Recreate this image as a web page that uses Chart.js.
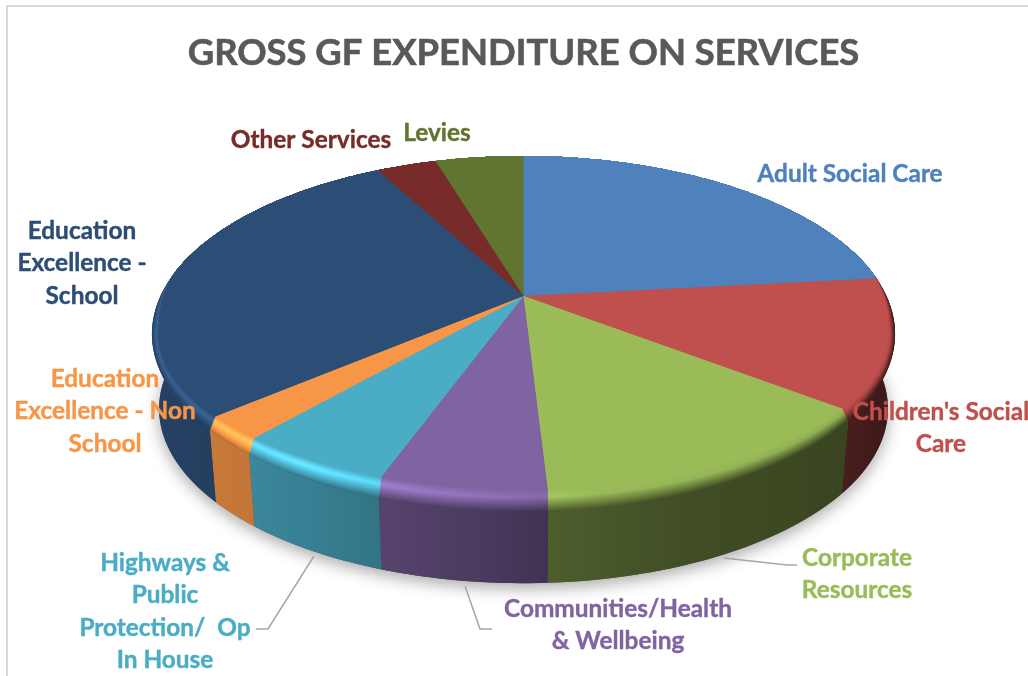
<!DOCTYPE html>
<html>
<head>
    <title>Gross GF expenditure on services</title>
    <meta charset="utf-8">
    <script src="https://cdn.jsdelivr.net/npm/chart.js"></script>
    <style>
        body { margin: 0; background: #fff; overflow: hidden; }
        canvas { display: block; }
    </style>
</head>
<body>
    <canvas id="myChart" width="1028" height="676"></canvas>
    <script>
        var chartTitle = 'GROSS GF EXPENDITURE ON SERVICES';
        var categories = ['Adult Social Care', "Children's Social Care", 'Corporate Resources',
            'Communities/Health & Wellbeing', 'Highways & Public Protection/  Op In House',
            'Education Excellence - Non School', 'Education Excellence - School', 'Other Services', 'Levies'];
        var shares = [23.3, 12.6, 13.2, 6.0, 5.7, 2.4, 28.8, 3.2, 4.7];
        var colours = ['#4F81BD', '#C0504D', '#9BBB59', '#8064A2', '#4BACC6', '#F79646', '#2C4D75', '#772C2A', '#5F7530'];

        // wrapped category text, with the centre x and first baseline of each block
        var labelLines = [
            ['Adult Social Care'],
            ["Children's Social", 'Care'],
            ['Corporate', 'Resources'],
            ['Communities/Health', '& Wellbeing'],
            ['Highways &', 'Public', 'Protection/  Op', 'In House'],
            ['Education', 'Excellence - Non', 'School'],
            ['Education', 'Excellence -', 'School'],
            ['Other Services'],
            ['Levies']
        ];
        var labelX = [850, 941, 857, 618, 165, 105, 82, 311, 437];
        var labelY = [181.5, 419.5, 565.5, 616.5, 570.5, 386.5, 238.5, 147.5, 140.5];
        var lineStep = 32.6;

        var leaders = [
            [[314, 556], [268, 629], [256, 629]],
            [[465, 586], [480, 629], [492, 629]],
            [[724, 558], [787, 565], [797, 565]]
        ];

        // tilted disc: apex of the slices, radii and perspective strength
        var apexX = 523.5, apexY = 296, radiusX = 363, radiusY = 169.9, tilt = 0.2135;
        var vanishY = 4200, depth = 0.0193, bevelPx = 22, sideBevelPx = 7;

        // brightness of the side wall and of the rim highlight, by x position
        var wallStops = [[150, .85], [230, .8], [320, .73], [385, .67], [514, .55], [549, .5], [700, .41], [850, .37], [895, .3]];
        var peakStops = [[150, 1.25], [300, 1.4], [400, 1.25], [514, 1.1], [600, 1], [895, .9]];

        function lookup(stops, x) {
            if (x <= stops[0][0]) return stops[0][1];
            for (var i = 1; i < stops.length; i++) {
                if (x <= stops[i][0]) {
                    var f = (x - stops[i-1][0]) / (stops[i][0] - stops[i-1][0]);
                    return stops[i-1][1] + f * (stops[i][1] - stops[i-1][1]);
                }
            }
            return stops[stops.length-1][1];
        }

        function clamp01(a) { return Math.max(0, Math.min(1, a)); }

        function shade(hex, f) {
            var n = parseInt(hex.slice(1), 16);
            var r = Math.min(255, Math.round((n >> 16) * f));
            var g = Math.min(255, Math.round(((n >> 8) & 255) * f));
            var b = Math.min(255, Math.round((n & 255) * f));
            return 'rgb(' + r + ',' + g + ',' + b + ')';
        }

        // outer edge of the disc for an arc angle; inset 1 gives the edge of the flat top face
        function rim(angle, inset) {
            var u = Math.cos(angle), v = Math.sin(angle), w = 1 - tilt * v;
            var x = apexX + radiusX * u / w;
            var y = apexY + radiusY * v / w;
            x -= inset * sideBevelPx * u * clamp01((v + 0.15) / 0.3);
            y -= inset * bevelPx * clamp01((v - 0.2) / 0.8);
            return [x, y];
        }

        // same edge carried down the side wall towards the vanishing point
        function foot(p) {
            return [apexX + (p[0] - apexX) * (1 - depth), p[1] + (vanishY - p[1]) * depth];
        }

        function arcPoints(arc, inset) {
            var pts = [];
            var n = Math.max(4, Math.ceil((arc.endAngle - arc.startAngle) * 60));
            for (var i = 0; i <= n; i++) {
                pts.push(rim(arc.startAngle + (arc.endAngle - arc.startAngle) * i / n, inset));
            }
            return pts;
        }

        function trace(ctx, pts) {
            ctx.moveTo(pts[0][0], pts[0][1]);
            for (var i = 1; i < pts.length; i++) ctx.lineTo(pts[i][0], pts[i][1]);
        }

        // inset 1 is the face colour, 0 is the wall colour, with the highlight between
        function bandGradient(ctx, hex, inset) {
            var g = ctx.createLinearGradient(150, 0, 900, 0);
            var e = 1 - inset;
            for (var x = 150; x <= 900; x += 25) {
                var wall = lookup(wallStops, x), peak = lookup(peakStops, x), f;
                if (e <= 0.35) f = 1 + (peak - 1) * e / 0.35;
                else f = peak + (wall - peak) * (e - 0.35) / 0.65;
                g.addColorStop((x - 150) / 750, shade(hex, f));
            }
            return g;
        }

        var pie3d = {
            id: 'pie3d',
            beforeDraw: function(chart) {
                var ctx = chart.ctx;
                ctx.save();
                ctx.fillStyle = '#d9d9d9';
                ctx.fillRect(6, 5, 1022, 2);
                ctx.fillRect(6, 5, 2, 671);
                ctx.restore();
            },
            beforeDatasetDraw: function(chart, args) {
                var ctx = chart.ctx;
                var arcs = args.meta.data;
                ctx.save();

                // soft shadow under the disc
                var whole = [];
                for (var a = 0; a <= 240; a++) whole.push(foot(rim(a / 240 * Math.PI * 2, 0)));
                ctx.save();
                ctx.shadowColor = 'rgba(0,0,0,0.34)';
                ctx.shadowBlur = 16;
                ctx.shadowOffsetY = 5;
                ctx.fillStyle = '#444';
                ctx.beginPath();
                trace(ctx, whole);
                ctx.closePath();
                ctx.fill();
                ctx.restore();

                // side wall of each slice
                arcs.forEach(function(arc, i) {
                    var top = arcPoints(arc, 0), bottom = top.map(foot).reverse();
                    ctx.beginPath();
                    trace(ctx, top.concat(bottom));
                    ctx.closePath();
                    ctx.fillStyle = bandGradient(ctx, colours[i], 0);
                    ctx.fill();
                });

                // rounded rim layers from the wall inwards, finishing on the flat face
                for (var d = 0; d <= bevelPx; d++) {
                    arcs.forEach(function(arc, i) {
                        var inset = d / bevelPx;
                        ctx.beginPath();
                        trace(ctx, [[apexX, apexY]].concat(arcPoints(arc, inset)));
                        ctx.closePath();
                        ctx.fillStyle = d === bevelPx ? colours[i] : bandGradient(ctx, colours[i], inset);
                        ctx.fill();
                    });
                }
                ctx.restore();
                return false;
            },
            afterDraw: function(chart) {
                var ctx = chart.ctx;
                ctx.save();
                ctx.strokeStyle = '#a6a6a6';
                ctx.lineWidth = 1.5;
                leaders.forEach(function(line) {
                    ctx.beginPath();
                    trace(ctx, line);
                    ctx.stroke();
                });
                ctx.textAlign = 'center';
                ctx.textBaseline = 'alphabetic';
                ctx.lineJoin = 'round';

                ctx.font = 'bold 36.4px Lato';
                ctx.fillStyle = ctx.strokeStyle = '#595959';
                ctx.lineWidth = 0.6;
                ctx.fillText(chartTitle, 523.5, 65);
                ctx.strokeText(chartTitle, 523.5, 65);

                ctx.font = 'bold 24.4px Lato';
                ctx.lineWidth = 0.4;
                labelLines.forEach(function(lines, i) {
                    ctx.fillStyle = ctx.strokeStyle = colours[i];
                    lines.forEach(function(text, j) {
                        ctx.fillText(text, labelX[i], labelY[i] + j * lineStep);
                        ctx.strokeText(text, labelX[i], labelY[i] + j * lineStep);
                    });
                });
                ctx.restore();
            }
        };

        var myChart = new Chart(document.getElementById('myChart'), {
            type: 'pie',
            data: {
                labels: categories,
                datasets: [{ data: shares, backgroundColor: colours, borderWidth: 0 }]
            },
            plugins: [pie3d],
            options: {
                responsive: false,
                animation: false,
                plugins: {
                    legend: { display: false },
                    tooltip: { enabled: false }
                }
            }
        });
    </script>
</body>
</html>
